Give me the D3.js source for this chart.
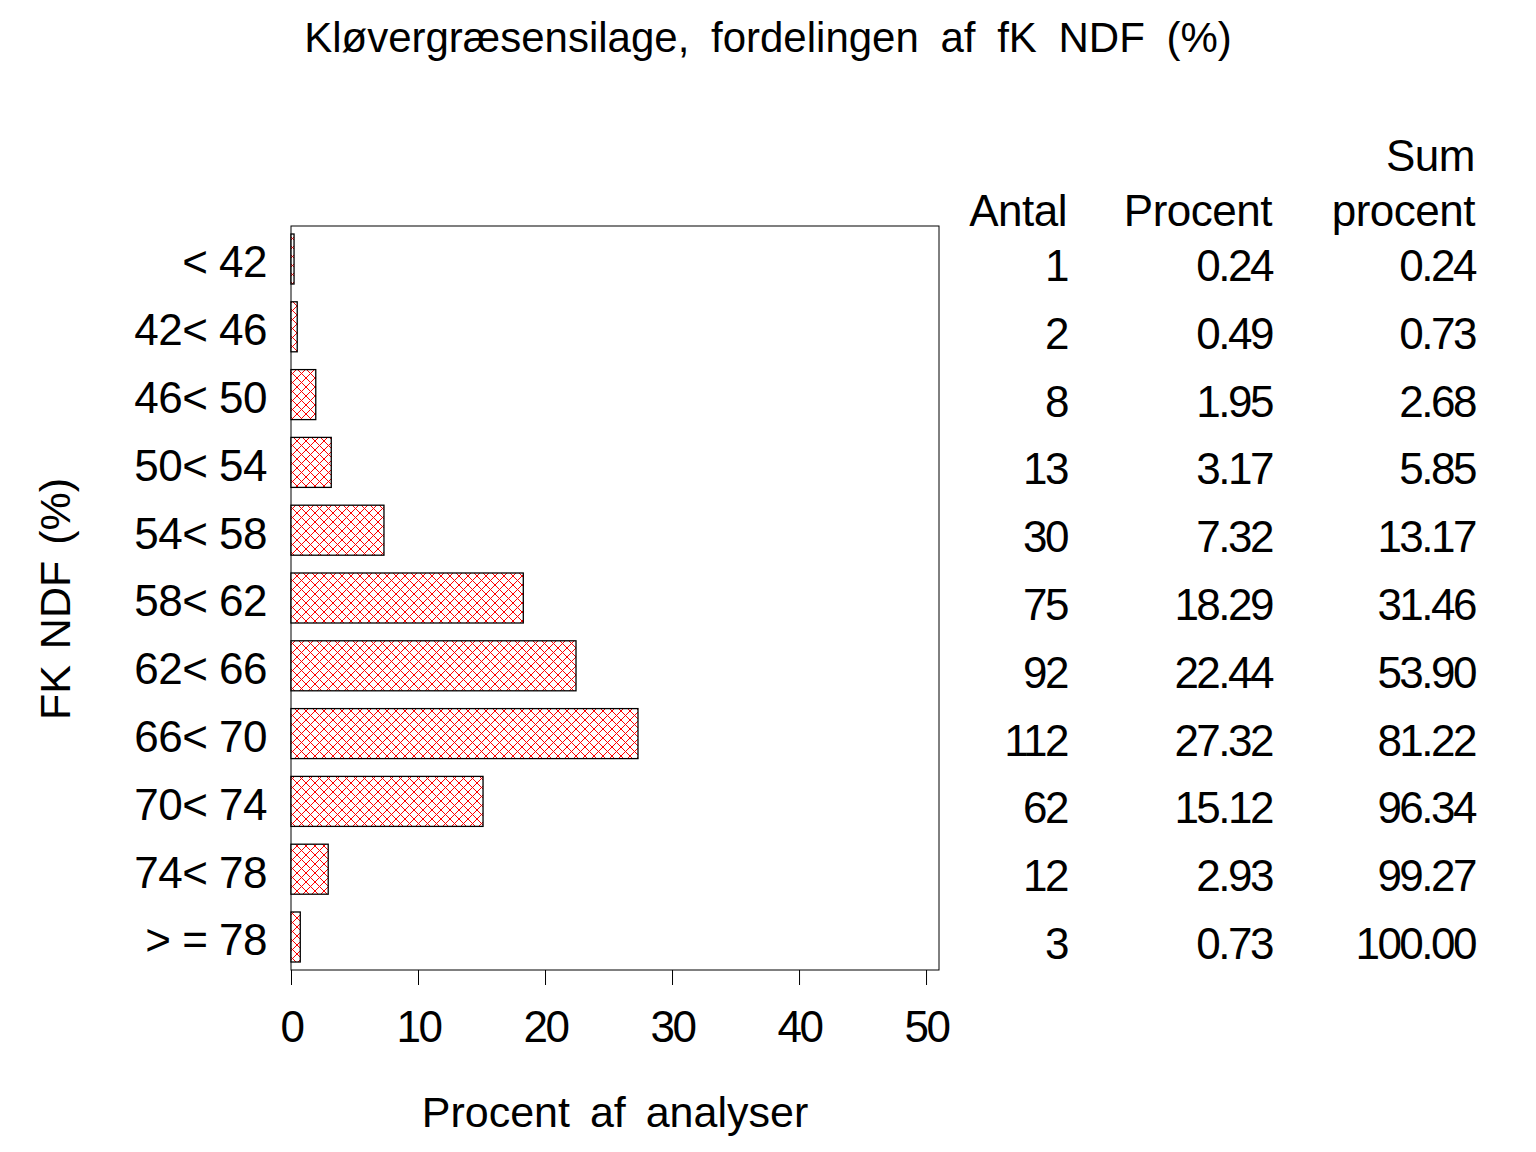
<!DOCTYPE html>
<html><head><meta charset="utf-8">
<script src="https://cdn.jsdelivr.net/npm/d3@7"></script>
<style>
body{margin:0;background:#fff;}
text{font-family:"Liberation Sans",Arial,sans-serif;fill:#000;}
</style></head>
<body>
<svg id="c" width="1536" height="1152"></svg>
<script>
const categories = ["< 42","42< 46","46< 50","50< 54","54< 58","58< 62","62< 66","66< 70","70< 74","74< 78","> = 78"];
const antal = [1,2,8,13,30,75,92,112,62,12,3];
const procent = [0.24,0.49,1.95,3.17,7.32,18.29,22.44,27.32,15.12,2.93,0.73];
const sumProcent = ["0.24","0.73","2.68","5.85","13.17","31.46","53.90","81.22","96.34","99.27","100.00"];
const procentLabels = ["0.24","0.49","1.95","3.17","7.32","18.29","22.44","27.32","15.12","2.93","0.73"];
const xTicks = [0,10,20,30,40,50];

const svg = d3.select("#c");
const L=291, R=939, T=226, B=970;
const x = d3.scaleLinear().domain([0, 51.02]).range([L, R]);
const y = d3.scaleBand().domain(categories).range([T, B]).paddingInner(0.2625).paddingOuter(0.118);

const defs = svg.append("defs");
const pat = defs.append("pattern").attr("id","hatch").attr("patternUnits","userSpaceOnUse")
  .attr("width",9).attr("height",9);
pat.append("rect").attr("width",9).attr("height",9).attr("fill","#fff");
pat.append("path").attr("d","M0,0L9,9M9,0L0,9M-1,8L1,10M8,-1L10,1").attr("stroke","#ff0000").attr("stroke-width",1).attr("fill","none");

// title
svg.append("text").attr("x",768).attr("y",52).attr("text-anchor","middle")
  .attr("font-size",42).attr("word-spacing",10)
  .text("Kløvergræsensilage, fordelingen af fK NDF (%)");

// frame
svg.append("rect").attr("x",L).attr("y",T).attr("width",R-L).attr("height",B-T)
  .attr("fill","none").attr("stroke","#000").attr("stroke-width",1);

// bars
svg.append("g").selectAll("rect").data(categories).join("rect")
  .attr("x",x(0)).attr("y",d=>y(d))
  .attr("width",(d,i)=>x(procent[i])-x(0)).attr("height",y.bandwidth())
  .attr("fill","url(#hatch)").attr("stroke","#000").attr("stroke-width",1.3);

// x axis
const xa = svg.append("g").attr("transform",`translate(0,${B})`)
  .call(d3.axisBottom(x).tickValues(xTicks).tickSize(15).tickPadding(26).tickFormat(d3.format("d")));
xa.select(".domain").remove();
xa.selectAll("line").attr("stroke","#000");
xa.selectAll("text").attr("font-size",44).style("letter-spacing","-2.5px").attr("font-family","Liberation Sans, Arial, sans-serif");

// y labels
const ya = svg.append("g").attr("transform",`translate(${L},0)`)
  .call(d3.axisLeft(y).tickSize(0).tickPadding(24));
ya.select(".domain").remove();
ya.selectAll("text").attr("font-size",44).style("letter-spacing","-0.5px").attr("font-family","Liberation Sans, Arial, sans-serif").attr("dy","0.42em");

// axis titles
svg.append("text").attr("x",615).attr("y",1127).attr("text-anchor","middle")
  .attr("font-size",43).attr("word-spacing",8).text("Procent af analyser");
svg.append("text").attr("transform","translate(70,599) rotate(-90)").attr("text-anchor","middle")
  .attr("font-size",43).attr("word-spacing",4).text("FK NDF (%)");

// table
const cols = [{xr:1067, vals:antal.map(String)},{xr:1272, vals:procentLabels},{xr:1475, vals:sumProcent}];
const tg = svg.append("g");
cols.forEach(c=>{
  tg.append("g").selectAll("text").data(categories).join("text")
    .attr("x",c.xr).attr("y",d=>y(d)+y.bandwidth()/2+22).attr("text-anchor","end")
    .attr("font-size",44).style("letter-spacing","-2.5px")
    .text((d,i)=>c.vals[i]);
});
const hdr = [{xr:1067,t:"Antal",y:226},{xr:1272,t:"Procent",y:226},{xr:1475,t:"procent",y:226},{xr:1475,t:"Sum",y:171}];
tg.selectAll(".h").data(hdr).join("text").attr("x",d=>d.xr).attr("y",d=>d.y)
  .attr("text-anchor","end").attr("font-size",44).style("letter-spacing","-0.5px").text(d=>d.t);
</script>
</body></html>
